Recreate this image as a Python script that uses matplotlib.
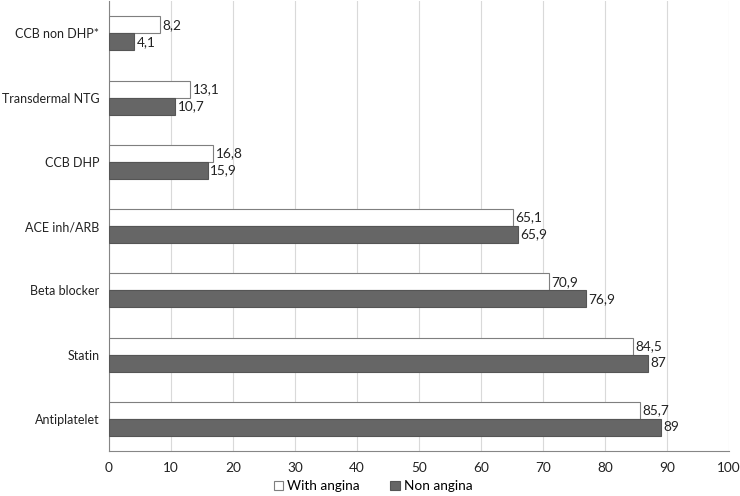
import numpy as np
import matplotlib.pyplot as plt

plt.rcParams['font.family'] = ['Lato', 'DejaVu Sans']

categories = ['Antiplatelet', 'Statin', 'Beta blocker', 'ACE inh/ARB',
              'CCB DHP', 'Transdermal NTG', 'CCB non DHP*']
with_angina = [85.7, 84.5, 70.9, 65.1, 16.8, 13.1, 8.2]
non_angina = [89, 87, 76.9, 65.9, 15.9, 10.7, 4.1]
with_labels = ['85,7', '84,5', '70,9', '65,1', '16,8', '13,1', '8,2']
non_labels = ['89', '87', '76,9', '65,9', '15,9', '10,7', '4,1']

fs = 9.8

fig = plt.figure(figsize=(7.4, 4.96), dpi=100)
ax = fig.add_axes([0.1473, 0.0907, 0.8377, 0.907])

ind = np.arange(len(categories))
h = 0.264

b1 = ax.barh(ind + h / 2, with_angina, h, color='white', edgecolor='#7f7f7f',
             linewidth=0.8, label='With angina', zorder=3)
b2 = ax.barh(ind - h / 2, non_angina, h, color='#666666', edgecolor='#555555',
             linewidth=0.8, label='Non angina', zorder=3)

for rect, lab in zip(b1, with_labels):
    ax.text(rect.get_width() + 0.4, rect.get_y() + rect.get_height() / 2, lab,
            va='center', ha='left', fontsize=fs, color='#222222')
for rect, lab in zip(b2, non_labels):
    ax.text(rect.get_width() + 0.4, rect.get_y() + rect.get_height() / 2, lab,
            va='center', ha='left', fontsize=fs, color='#222222')

ax.set_xlim(0, 100)
ax.set_ylim(-0.5, 6.5)
ax.set_xticks(np.arange(0, 101, 10))
ax.set_yticks(ind)
ax.set_yticklabels(categories)
ax.tick_params(length=0, colors='#222222')
ax.tick_params(axis='x', pad=8, labelsize=fs)
ax.tick_params(axis='y', pad=7, labelsize=9)
ax.xaxis.grid(True, color='#d9d9d9', linewidth=0.8, zorder=0)
ax.set_axisbelow(True)
for s in ['top', 'right']:
    ax.spines[s].set_visible(False)
for s in ['left', 'bottom']:
    ax.spines[s].set_color('#868686')
    ax.spines[s].set_linewidth(0.8)

ax.legend(loc='center', bbox_to_anchor=(0.426, -0.078), ncol=2,
          frameon=False, fontsize=fs, handlelength=0.7, handleheight=0.7,
          handletextpad=0.3, columnspacing=2.2, borderaxespad=0)

plt.savefig('out.png', dpi=100)
